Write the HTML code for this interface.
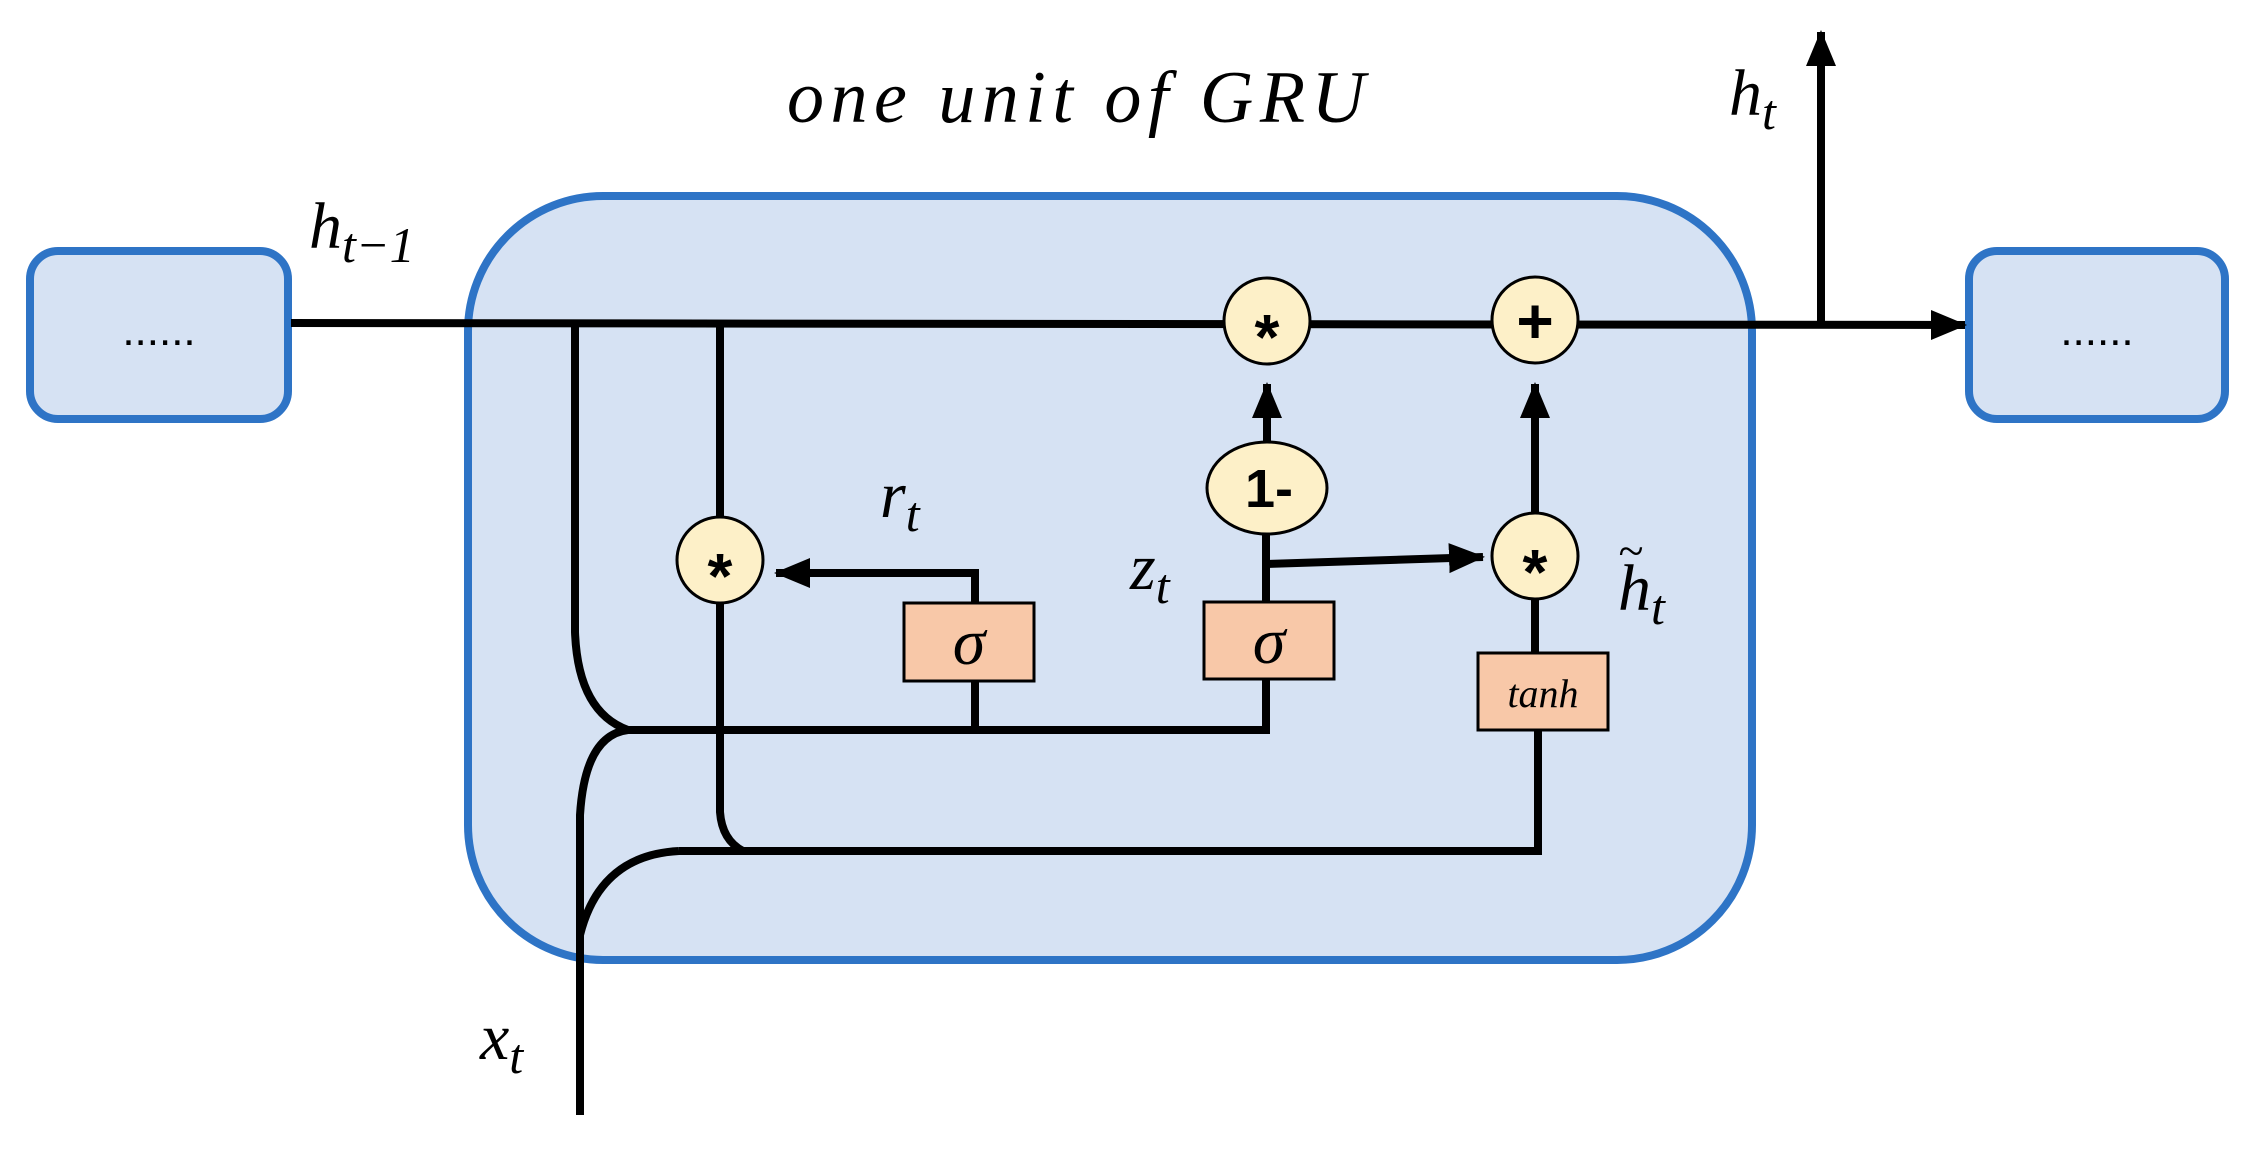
<!DOCTYPE html>
<html><head><meta charset="utf-8"><style>
html,body{margin:0;padding:0;background:#fff;}
svg{display:block;}
text{font-family:"Liberation Serif","DejaVu Serif",serif;font-style:italic;fill:#000;}
.s{font-family:"Liberation Sans","DejaVu Sans",sans-serif;font-style:normal;font-weight:bold;}
</style></head><body>
<svg width="2253" height="1150" viewBox="0 0 2253 1150" xmlns="http://www.w3.org/2000/svg">
<defs><marker id="a" markerWidth="36" markerHeight="36" refX="34" refY="18" orient="auto" markerUnits="userSpaceOnUse"><path d="M0,3 L36,18 L0,33 z" fill="#000"/></marker></defs>
<rect x="30" y="251" width="258" height="168" rx="28" fill="#d6e2f3" stroke="#2e74c6" stroke-width="8"/>
<rect x="1969" y="251" width="256" height="168" rx="28" fill="#d6e2f3" stroke="#2e74c6" stroke-width="8"/>
<rect x="468" y="196" width="1284" height="764" rx="135" fill="#d6e2f3" stroke="#2e74c6" stroke-width="8"/>
<text x="159" y="345" font-size="44" text-anchor="middle" class="s" style="font-weight:normal">......</text>
<text x="2097" y="345" font-size="44" text-anchor="middle" class="s" style="font-weight:normal">......</text>
<g stroke="#000" stroke-width="8" fill="none">
<line x1="291" y1="323" x2="1965" y2="325" marker-end="url(#a)"/>
<line x1="1821" y1="325" x2="1821" y2="32" marker-end="url(#a)"/>
<path d="M575,323 V632 Q578,712 628,730 H1266 V679"/>
<path d="M720,323 V812 Q722,840 743,851"/>
<path d="M679,851 H1538 V730"/>
<path d="M580,1115 V815 Q585,735 628,730"/>
<path d="M580,935 Q600,855 679,851"/>
<path d="M975,730 V681 M975,603 V573"/>
<line x1="979" y1="573" x2="776" y2="573" marker-end="url(#a)"/>
<path d="M1266,602 V535"/>
<line x1="1267" y1="441" x2="1267" y2="384" marker-end="url(#a)"/>
<line x1="1266" y1="564" x2="1483" y2="557" marker-end="url(#a)"/>
<line x1="1535" y1="513" x2="1535" y2="384" marker-end="url(#a)"/>
<line x1="1535" y1="653" x2="1535" y2="599"/>
</g>
<g stroke="#000" stroke-width="3" fill="#fdf0c8">
<circle cx="720" cy="560" r="43"/>
<circle cx="1267" cy="321" r="43"/>
<circle cx="1535" cy="320" r="43"/>
<circle cx="1535" cy="556" r="43"/>
<ellipse cx="1267" cy="488" rx="60" ry="46"/>
</g>
<g stroke="#000" stroke-width="3" fill="#f8c8a8">
<rect x="904" y="603" width="130" height="78"/>
<rect x="1204" y="602" width="130" height="77"/>
<rect x="1478" y="653" width="130" height="77"/>
</g>
<text class="s" x="720" y="598" font-size="64" text-anchor="middle">*</text>
<text class="s" x="1267" y="359" font-size="64" text-anchor="middle">*</text>
<text class="s" x="1535" y="594" font-size="64" text-anchor="middle">*</text>
<text class="s" x="1535" y="343" font-size="64" text-anchor="middle">+</text>
<text class="s" x="1269" y="507" font-size="54" text-anchor="middle">1-</text>
<text x="969" y="664" font-size="66" text-anchor="middle">σ</text>
<text x="1269" y="663" font-size="66" text-anchor="middle">σ</text>
<text x="1543" y="707" font-size="40" text-anchor="middle">tanh</text>
<text x="787" y="122" font-size="74" textLength="578" lengthAdjust="spacing">one unit of GRU</text>
<text x="309" y="248" font-size="66">h<tspan font-size="50" dy="14">t−1</tspan></text>
<text x="1729" y="115" font-size="66">h<tspan font-size="50" dy="14">t</tspan></text>
<text x="880" y="517" font-size="66">r<tspan font-size="50" dy="14">t</tspan></text>
<text x="1130" y="589" font-size="66">z<tspan font-size="50" dy="14">t</tspan></text>
<text x="1618" y="610" font-size="66">h<tspan font-size="50" dy="14">t</tspan></text>
<text x="1618" y="566" font-size="46" font-style="normal">~</text>
<text x="480" y="1059" font-size="66">x<tspan font-size="50" dy="14">t</tspan></text>
</svg>
</body></html>
